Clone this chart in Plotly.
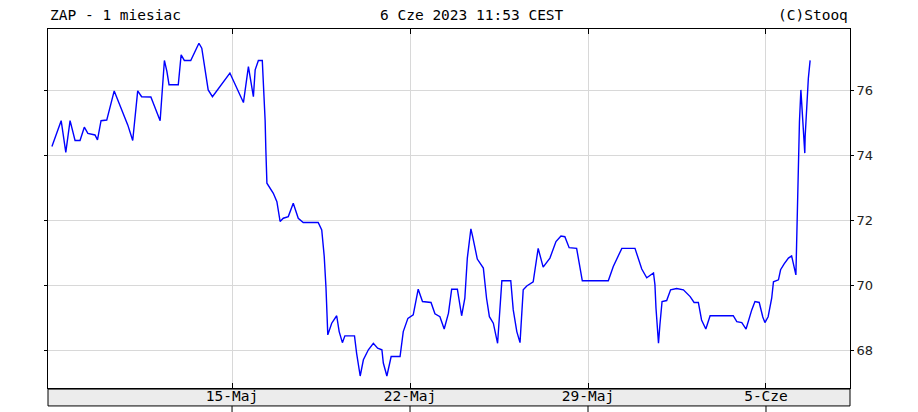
import plotly.graph_objects as go

# trading-session axis: 0 = start of 8 May session, 1 unit = one session
sesja = [
    -0.06, 0.20, 0.33, 0.45, 0.59, 0.73, 0.85, 0.95, 1.15, 1.22,
    1.32, 1.48, 1.69, 1.95, 2.07, 2.21, 2.28, 2.35, 2.46, 2.72,
    2.98, 3.04, 3.10, 3.17, 3.23, 3.49, 3.57, 3.66, 3.84, 4.07,
    4.15, 4.33, 4.45, 4.94, 5.32, 5.46, 5.53, 5.60, 5.65, 5.74,
    5.85, 5.88, 5.93, 5.95, 5.98, 6.16, 6.26, 6.35, 6.44, 6.58,
    6.72, 6.86, 7.00, 7.42, 7.52, 7.59, 7.64, 7.69, 7.80, 7.94,
    8.01, 8.10, 8.17, 8.44, 8.50, 8.60, 8.69, 8.83, 8.97, 9.09,
    9.21, 9.25, 9.35, 9.47, 9.72, 9.81, 9.94, 10.09, 10.23, 10.35,
    10.59, 10.70, 10.84, 10.96, 11.08, 11.17, 11.33, 11.45, 11.54, 11.61,
    11.71, 11.76, 11.89, 12.06, 12.15, 12.23, 12.34, 12.46, 12.53, 12.58,
    12.83, 12.90, 13.00, 13.09, 13.18, 13.28, 13.46, 13.54, 13.60, 13.74,
    13.93, 14.10, 14.24, 14.35, 14.47, 14.68, 14.84, 15.57, 15.71, 15.95,
    16.32, 16.51, 16.65, 16.84, 16.88, 16.91, 16.95, 16.98, 17.02, 17.08,
    17.21, 17.32, 17.49, 17.68, 17.87, 17.98, 18.10, 18.19, 18.31, 18.43,
    19.08, 19.18, 19.32, 19.44, 19.60, 19.69, 19.81, 19.91, 19.97, 20.06,
    20.16, 20.21, 20.35, 20.41, 20.51, 20.63, 20.72, 20.79, 20.84, 20.86,
    20.89, 20.94, 20.98, 21.00, 21.02, 21.05, 21.09, 21.10, 21.14, 21.19,
    21.24,
]
kurs = [
    74.28, 75.08, 74.10, 75.08, 74.47, 74.47, 74.88, 74.69, 74.64, 74.49,
    75.08, 75.10, 76.00, 75.26, 74.95, 74.47, 75.21, 76.00, 75.82, 75.81,
    75.08, 76.03, 76.94, 76.60, 76.19, 76.19, 77.11, 76.94, 76.94, 77.47,
    77.32, 76.03, 75.82, 76.55, 75.64, 76.75, 76.24, 75.82, 76.65, 76.94,
    76.94, 76.29, 75.08, 74.18, 73.15, 72.84, 72.58, 71.97, 72.07, 72.12,
    72.53, 72.07, 71.94, 71.94, 71.71, 70.89, 69.91, 68.47, 68.83, 69.06,
    68.57, 68.23, 68.44, 68.44, 67.90, 67.20, 67.70, 68.01, 68.21, 68.06,
    68.01, 67.60, 67.20, 67.80, 67.80, 68.57, 68.98, 69.09, 69.88, 69.50,
    69.47, 69.12, 69.03, 68.65, 69.14, 69.88, 69.88, 69.06, 69.60, 70.84,
    71.74, 71.50, 70.81, 70.53, 69.60, 69.03, 68.83, 68.21, 69.24, 70.14,
    70.14, 69.24, 68.57, 68.23, 69.86, 69.98, 70.11, 70.68, 71.14, 70.56,
    70.84, 71.35, 71.52, 71.50, 71.16, 71.14, 70.14, 70.14, 70.58, 71.14,
    71.14, 70.50, 70.23, 70.38, 70.02, 69.29, 68.57, 68.21, 68.78, 69.50,
    69.53, 69.86, 69.90, 69.86, 69.65, 69.47, 69.47, 68.93, 68.65, 69.06,
    69.06, 68.88, 68.85, 68.65, 69.24, 69.50, 69.47, 69.02, 68.85, 69.03,
    69.60, 70.11, 70.17, 70.48, 70.66, 70.84, 70.91, 70.58, 70.32, 71.25,
    73.15, 75.05, 76.03, 75.67, 75.05, 74.59, 74.08, 74.59, 75.52, 76.39,
    76.94,
]

x_ticks = [5, 10, 15, 20]
x_labels = ["15-Maj", "22-Maj", "29-Maj", "5-Cze"]
y_ticks = [68, 70, 72, 74, 76]

mono = "DejaVu Sans Mono"

fig = go.Figure(
    go.Scatter(
        x=sesja,
        y=kurs,
        mode="lines",
        line=dict(color="#0000ff", width=1.4),
        hoverinfo="skip",
    )
)

# grey date band under the plot, with ticks under it
shapes = [
    dict(type="rect", xref="paper", yref="paper", x0=0, x1=1, y0=-0.003, y1=-0.05,
         fillcolor="#ececec", line=dict(color="black", width=1), layer="below"),
]
for t in x_ticks:
    shapes.append(dict(type="line", xref="x", yref="paper", x0=t, x1=t, y0=-0.05, y1=-0.07,
                       line=dict(color="black", width=1)))

# the page body adds an 8px offset, so margins are shifted to compensate
fig.update_layout(
    template="none",
    width=918,
    height=412,
    margin=dict(l=40, r=76, t=21, b=32),
    plot_bgcolor="white",
    paper_bgcolor="white",
    showlegend=False,
    shapes=shapes,
    xaxis=dict(
        automargin=False,
        range=[-0.17, 22.36],
        tickvals=x_ticks,
        ticktext=x_labels,
        showgrid=True,
        gridcolor="#d8d8d8",
        gridwidth=1,
        zeroline=False,
        showline=True,
        linecolor="black",
        linewidth=1,
        mirror="ticks",
        ticks="inside",
        ticklen=5,
        tickcolor="black",
        tickfont=dict(family=mono, size=14.5, color="black"),
        ticklabelstandoff=-5,
    ),
    yaxis=dict(
        automargin=False,
        range=[66.83, 77.91],
        side="right",
        tickvals=y_ticks,
        showgrid=True,
        gridcolor="#d8d8d8",
        gridwidth=1,
        zeroline=False,
        showline=True,
        linecolor="black",
        linewidth=1,
        mirror="ticks",
        ticks="outside",
        ticklen=3,
        tickcolor="black",
        tickfont=dict(family="DejaVu Sans", size=13, color="#222222"),
    ),
    annotations=[
        dict(text="ZAP - 1 miesiac", xref="paper", yref="paper", x=0, y=1, yshift=4,
             xanchor="left", yanchor="bottom", showarrow=False,
             font=dict(family=mono, size=14.5, color="black")),
        dict(text="6 Cze 2023 11:53 CEST", xref="paper", yref="paper", x=0.529, y=1, yshift=4,
             xanchor="center", yanchor="bottom", showarrow=False,
             font=dict(family=mono, size=14.5, color="black")),
        dict(text="(C)Stooq", xref="paper", yref="paper", x=1, y=1, yshift=4,
             xanchor="right", yanchor="bottom", showarrow=False,
             font=dict(family=mono, size=14.5, color="black")),
    ],
)

fig.write_html("out.html")
